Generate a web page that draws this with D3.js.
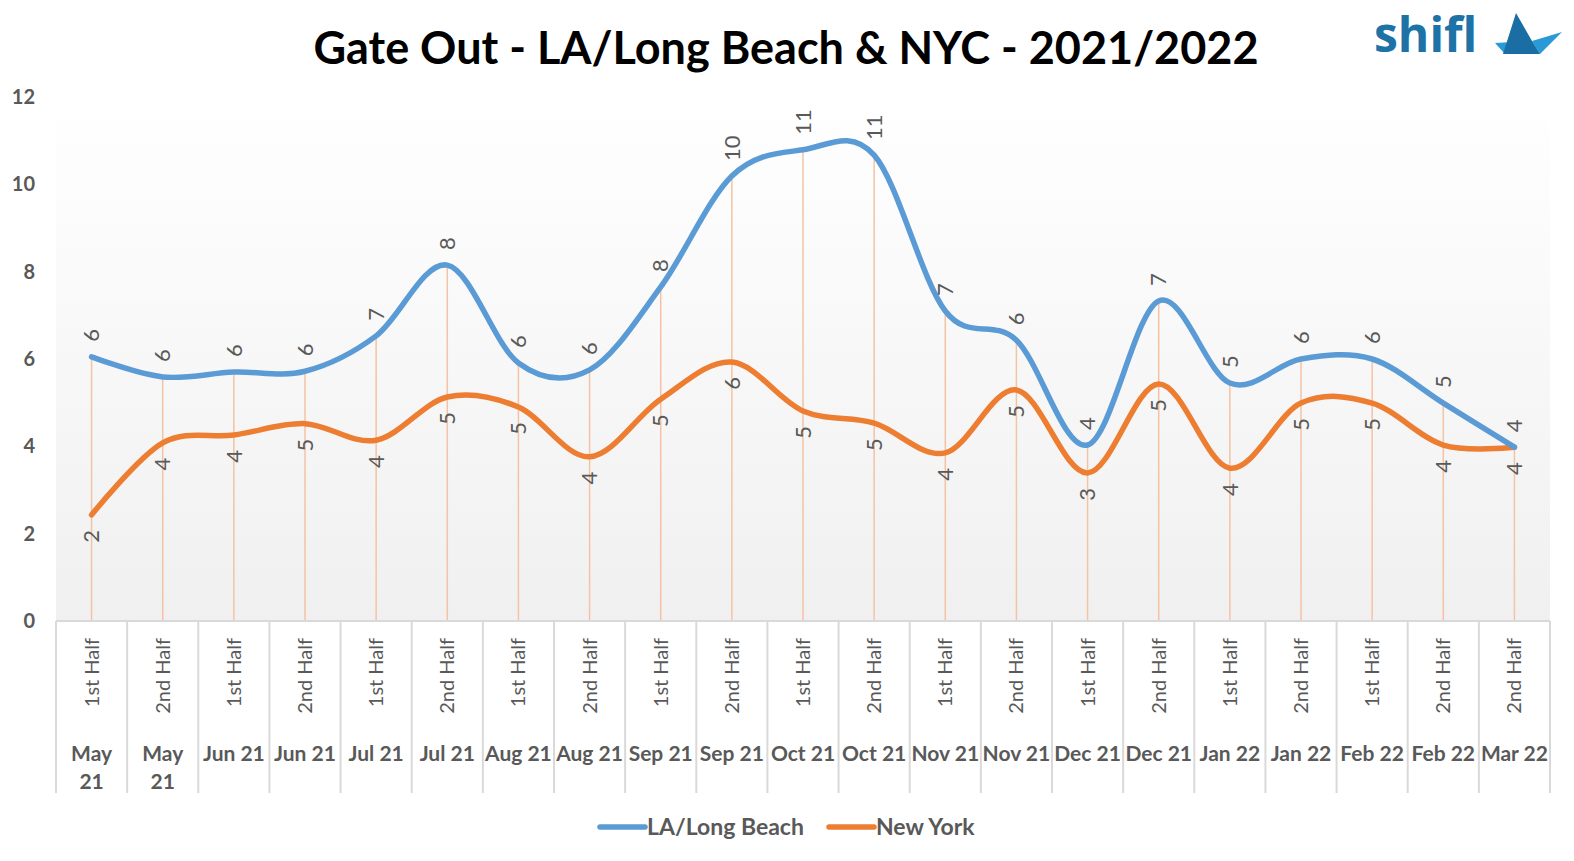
<!DOCTYPE html>
<html>
<head>
<meta charset="utf-8">
<script src="https://cdn.jsdelivr.net/npm/d3@7"></script>
<style>
  body { margin: 0; background: #fff; }
  svg { display: block; font-family: Lato, "Open Sans", sans-serif; }
</style>
</head>
<body>
<svg id="chart"></svg>
<script>
// data
const halves = ["1st Half", "2nd Half", "1st Half", "2nd Half", "1st Half", "2nd Half", "1st Half",
    "2nd Half", "1st Half", "2nd Half", "1st Half", "2nd Half", "1st Half", "2nd Half", "1st Half",
    "2nd Half", "1st Half", "2nd Half", "1st Half", "2nd Half", "2nd Half"];
const months = ["May\n21", "May\n21", "Jun 21", "Jun 21", "Jul 21", "Jul 21", "Aug 21", "Aug 21",
    "Sep 21", "Sep 21", "Oct 21", "Oct 21", "Nov 21", "Nov 21", "Dec 21", "Dec 21", "Jan 22",
    "Jan 22", "Feb 22", "Feb 22", "Mar 22"];
const laLongBeach = [6.05, 5.59, 5.70, 5.72, 6.53, 8.15, 5.91, 5.75, 7.65, 10.19, 10.79, 10.67,
    7.10, 6.43, 4.03, 7.33, 5.45, 6.00, 6.00, 4.99, 3.98];
const newYork = [2.43, 4.08, 4.26, 4.52, 4.14, 5.13, 4.90, 3.76, 5.08, 5.93, 4.81, 4.53,
    3.85, 5.29, 3.39, 5.43, 3.50, 4.99, 4.99, 4.03, 3.98];
const yTicks = [0, 2, 4, 6, 8, 10, 12];

const W = 1574, H = 861;
const margin = {top: 97, right: 24, bottom: 240, left: 56};

const svg = d3.select("#chart").attr("width", W).attr("height", H);

const x = d3.scaleBand()
    .domain(d3.range(halves.length))
    .range([margin.left, W - margin.right]);
const y = d3.scaleLinear()
    .domain([0, 12])
    .range([H - margin.bottom, margin.top]);

// plot area background
const grad = svg.append("defs").append("linearGradient")
    .attr("id", "bg").attr("x1", 0).attr("y1", 0).attr("x2", 0).attr("y2", 1);
grad.append("stop").attr("offset", "0%").attr("stop-color", "#ffffff");
grad.append("stop").attr("offset", "100%").attr("stop-color", "#f0f0f0");

svg.append("rect")
    .attr("x", margin.left)
    .attr("y", margin.top)
    .attr("width", x.range()[1] - x.range()[0])
    .attr("height", y(0) - y(12))
    .attr("fill", "url(#bg)");

// title
svg.append("text")
    .attr("x", 786)
    .attr("y", 64)
    .attr("text-anchor", "middle")
    .attr("font-size", 45)
    .attr("font-weight", "bold")
    .attr("fill", "#000")
    .text("Gate Out - LA/Long Beach & NYC - 2021/2022");

// logo
const logo = svg.append("g");
logo.append("text")
    .attr("x", 1374).attr("y", 52)
    .attr("font-family", "'Open Sans', sans-serif")
    .attr("font-size", 48).attr("font-weight", 700)
    .attr("fill", "#1d72a6")
    .text("shifl");
logo.append("path").attr("d", "M1495,43 L1532,41 L1540,54 L1505,54 Z").attr("fill", "#2a9ad6");
logo.append("path").attr("d", "M1516,13 L1532,41 L1540,54 L1503,54 Z").attr("fill", "#1a6ea3");
logo.append("path").attr("d", "M1532,41 L1562,32 L1540,54 Z").attr("fill", "#2a9ad6");

// y axis labels
svg.append("g").selectAll("text")
    .data(yTicks)
    .join("text")
    .attr("x", 35)
    .attr("y", d => y(d))
    .attr("dy", "0.35em")
    .attr("text-anchor", "end")
    .attr("font-size", 20)
    .attr("font-weight", "bold")
    .attr("fill", "#595959")
    .text(d => d);

// drop lines
svg.append("g").selectAll("line")
    .data(d3.range(halves.length))
    .join("line")
    .attr("x1", i => x(i) + x.bandwidth() / 2)
    .attr("x2", i => x(i) + x.bandwidth() / 2)
    .attr("y1", i => y(Math.max(laLongBeach[i], newYork[i])))
    .attr("y2", y(0))
    .attr("stroke", "#f4c3a3")
    .attr("stroke-width", 1.5);

// category axis
const axisG = svg.append("g");
axisG.append("line")
    .attr("x1", x.range()[0]).attr("x2", x.range()[1])
    .attr("y1", y(0)).attr("y2", y(0))
    .attr("stroke", "#d9d9d9").attr("stroke-width", 2);
axisG.selectAll(".sep")
    .data(d3.range(halves.length + 1))
    .join("line")
    .attr("class", "sep")
    .attr("x1", i => x.range()[0] + i * x.step())
    .attr("x2", i => x.range()[0] + i * x.step())
    .attr("y1", y(0)).attr("y2", 793)
    .attr("stroke", "#d9d9d9").attr("stroke-width", 2);

axisG.selectAll(".half")
    .data(halves)
    .join("text")
    .attr("class", "half")
    .attr("transform", (d, i) => `translate(${x(i) + x.bandwidth() / 2},638) rotate(-90)`)
    .attr("dy", "0.35em")
    .attr("text-anchor", "end")
    .attr("font-size", 20)
    .attr("fill", "#595959")
    .text(d => d);

axisG.selectAll(".month")
    .data(months)
    .join("text")
    .attr("class", "month")
    .attr("x", (d, i) => x(i) + x.bandwidth() / 2)
    .attr("y", 761)
    .attr("text-anchor", "middle")
    .attr("font-size", 21)
    .attr("font-weight", "bold")
    .attr("fill", "#595959")
    .each(function (d) {
        const t = d3.select(this);
        d.split("\n").forEach((part, k) => {
            t.append("tspan")
                .attr("x", t.attr("x"))
                .attr("dy", k === 0 ? 0 : 28)
                .text(part);
        });
    });

// lines
const line = d3.line()
    .x((d, i) => x(i) + x.bandwidth() / 2)
    .y(d => y(d))
    .curve(d3.curveCardinal.tension(0));

const series = [
    {name: "LA/Long Beach", values: laLongBeach, color: "#5b9bd5", above: true},
    {name: "New York", values: newYork, color: "#ed7d31", above: false}
];

series.slice().reverse().forEach(s => {
    svg.append("path")
        .datum(s.values)
        .attr("fill", "none")
        .attr("stroke", s.color)
        .attr("stroke-width", 5.5)
        .attr("stroke-linecap", "round")
        .attr("d", line);
});

// data labels
series.forEach(s => {
    svg.append("g").selectAll("text")
        .data(s.values)
        .join("text")
        .attr("transform", (d, i) =>
            `translate(${x(i) + x.bandwidth() / 2},${y(d) + (s.above ? -15 : 15)}) rotate(-90)`)
        .attr("dy", "0.35em")
        .attr("text-anchor", s.above ? "start" : "end")
        .attr("font-size", 22)
        .attr("fill", "#595959")
        .text(d => Math.round(d));
});

// legend
const legend = svg.append("g");
const legendItems = [
    {x: 600, s: series[0]},
    {x: 829, s: series[1]}
];
legendItems.forEach(it => {
    legend.append("line")
        .attr("x1", it.x).attr("x2", it.x + 45)
        .attr("y1", 827).attr("y2", 827)
        .attr("stroke", it.s.color)
        .attr("stroke-width", 5.5)
        .attr("stroke-linecap", "round");
    legend.append("text")
        .attr("x", it.x + 47)
        .attr("y", 827)
        .attr("dy", "0.35em")
        .attr("font-size", 23)
        .attr("font-weight", "bold")
        .attr("fill", "#595959")
        .text(it.s.name);
});
</script>
</body>
</html>
